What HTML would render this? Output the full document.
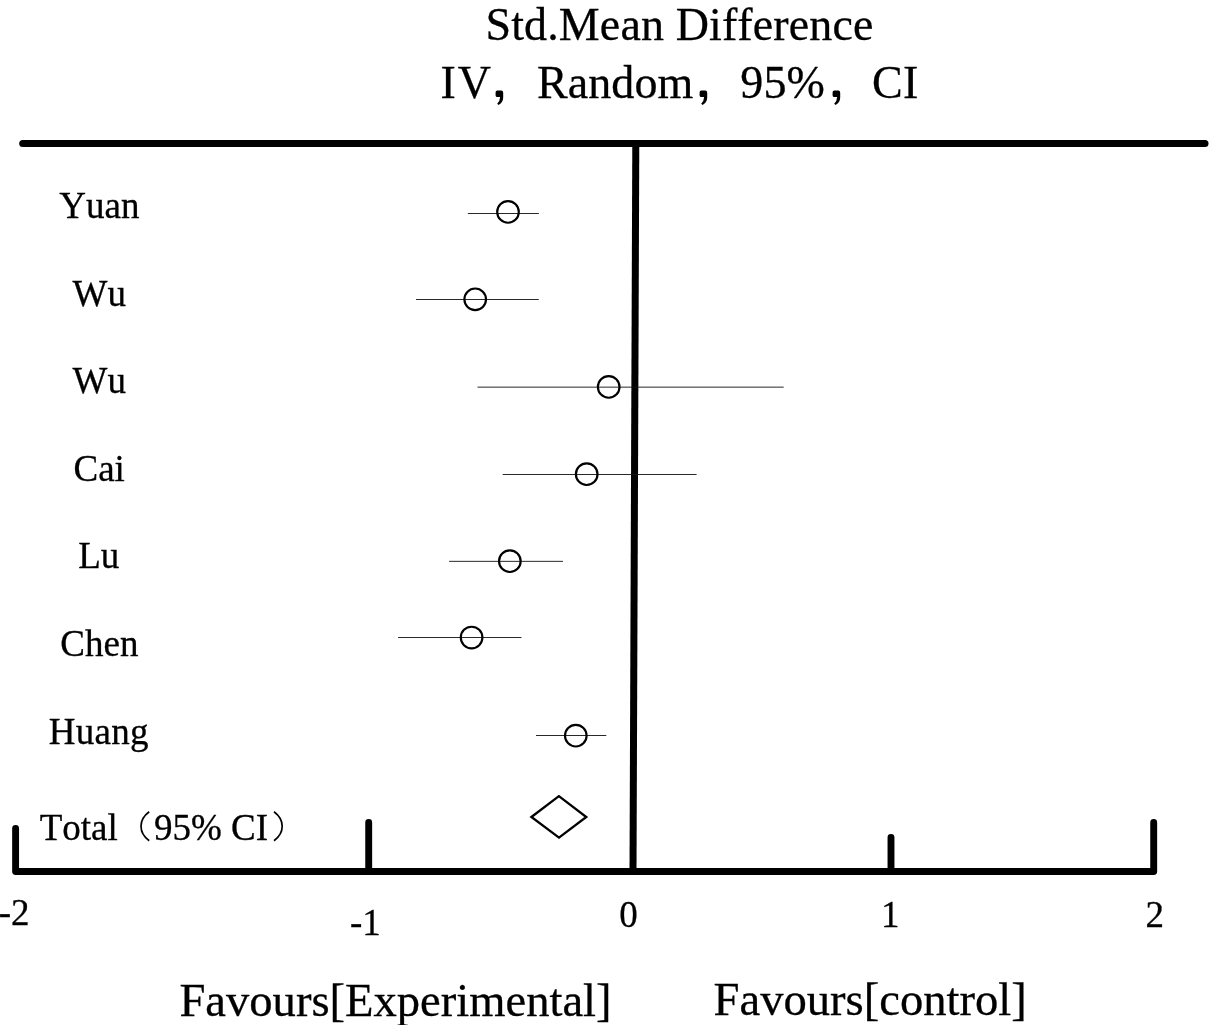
<!DOCTYPE html>
<html>
<head>
<meta charset="utf-8">
<title>Forest plot</title>
<style>
html,body{margin:0;padding:0;background:#fff;}
body{width:1209px;height:1025px;overflow:hidden;position:relative;}
svg{position:absolute;left:0;top:0;display:block;will-change:transform;}
text{font-family:"Liberation Serif",serif;fill:#000;stroke:#000;stroke-width:0.3px;font-kerning:none;font-variant-ligatures:none;}
.t46{font-size:46px;letter-spacing:0.12px;}
.t46b{font-size:46.6px;}
.t37{font-size:37px;}
.ax{stroke:#000;fill:none;stroke-linecap:round;stroke-linejoin:round;}
.ci{stroke:#111;stroke-width:0.9;fill:none;}
.pt{stroke:#000;stroke-width:2.15;fill:none;}
</style>
</head>
<body>
<svg width="1209" height="1025" viewBox="0 0 1209 1025">
<!-- title -->
<text class="t46" x="485.5" y="40.1">Std.Mean Difference</text>
<text class="t46" x="440.6" y="97.6">I<tspan dx="1.8">V</tspan></text>
<text class="t46" x="536.9" y="97.6">Random</text>
<text class="t46" x="740.3" y="97.6">95%</text>
<text class="t46" x="872.1" y="97.6">CI</text>
<!-- fullwidth commas -->
<g id="commas" fill="#000">
<path id="cm" d="M495.6 92.3Q495.6 90.6 497.3 90.6L501.2 90.6Q503.2 90.6 503.2 92.7L503.2 97.4Q503.2 102 498.6 105.1L497.2 103.8Q500 101.4 500.1 97.1L497.3 97.1Q495.6 97.1 495.6 95.4Z"/>
<use href="#cm" x="204"/>
<use href="#cm" x="337"/>
</g>
<!-- axes -->
<line class="ax" x1="22.7" y1="143.4" x2="1205" y2="143.4" stroke-width="7"/>
<line class="ax" x1="635.8" y1="143.4" x2="633" y2="871.5" stroke-width="7" style="stroke-linecap:butt"/>
<path class="ax" stroke-width="6.9" d="M15.6 828.4V871.5H1153.7V822.4"/>
<path class="ax" stroke-width="6.9" d="M368.7 822.4V871.5M891 837.4V871.5"/>
<!-- tick labels -->
<text class="t37" x="29.5" y="924.9" text-anchor="end">-2</text>
<text class="t37" x="350" y="935">-1</text>
<text class="t37" x="619.2" y="927">0</text>
<text class="t37" x="881" y="926.7">1</text>
<text class="t37" x="1145.5" y="926.7">2</text>
<!-- study labels -->
<g class="t37" text-anchor="middle">
<text x="99.4" y="218.4">Yuan</text>
<text x="99.3" y="306.2">Wu</text>
<text x="99.2" y="393.2">Wu</text>
<text x="99.2" y="481.2">Cai</text>
<text x="98.8" y="568.3">Lu</text>
<text x="99.4" y="656.2">Chen</text>
<text x="98.8" y="743.6" style="letter-spacing:0.3px">Huang</text>
</g>
<text class="t37" x="39.7" y="839.6">Total</text>
<text class="t37" x="154" y="839.6">95% CI</text>
<path d="M149.2 811.8c-5.4 4-8.2 8.8-8.2 14.5s2.8 10.5 8.2 14.5" fill="none" stroke="#000" stroke-width="1.7"/>
<path d="M274 811.8c5.4 4 8.2 8.8 8.2 14.5s-2.8 10.5-8.2 14.5" fill="none" stroke="#000" stroke-width="1.7"/>
<!-- CIs -->
<g class="ci">
<line x1="467.8" y1="213.5" x2="538.9" y2="213.5"/>
<line x1="416" y1="299.5" x2="538.8" y2="299.5"/>
<line x1="477.5" y1="387.15" x2="783.7" y2="387.15"/>
<line x1="502.7" y1="474.5" x2="696.6" y2="474.5"/>
<line x1="449.1" y1="561.35" x2="563" y2="561.35"/>
<line x1="398.1" y1="637.5" x2="521.5" y2="637.5"/>
<line x1="536" y1="735.5" x2="606.3" y2="735.5"/>
</g>
<g class="pt">
<circle cx="508" cy="211.9" r="10.8"/>
<circle cx="475.2" cy="299.3" r="10.8"/>
<circle cx="608.7" cy="386.9" r="10.8"/>
<circle cx="586.7" cy="474.2" r="10.8"/>
<circle cx="509.85" cy="561.2" r="10.8"/>
<circle cx="471.6" cy="637.5" r="10.8"/>
<circle cx="575.8" cy="735.7" r="10.8"/>
<path d="M531.4 817L558.9 796.2L586.3 817L559 837.6Z" stroke-linejoin="miter" stroke-width="2.3"/>
</g>
<!-- bottom labels -->
<text class="t46b" x="179.4" y="1015.7">Favours[Experimental]</text>
<text class="t46b" x="713.6" y="1015">Favours[control]</text>
</svg>
</body>
</html>
